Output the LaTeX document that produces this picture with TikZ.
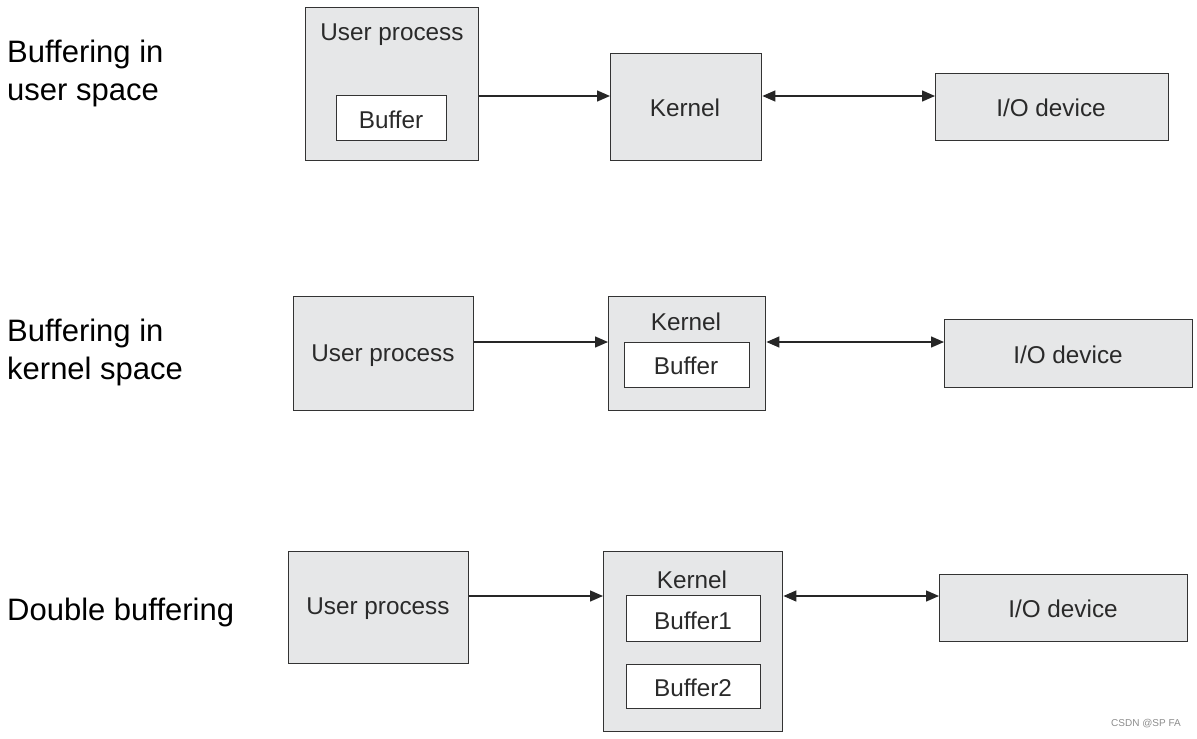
\documentclass[tikz,border=0pt]{standalone}
\usepackage{fontspec}
\setmainfont{Liberation Sans}
\usetikzlibrary{arrows.meta}
\definecolor{boxfill}{HTML}{E6E7E8}
\definecolor{boxline}{HTML}{333333}
\definecolor{txt}{HTML}{2A2A2A}
\begin{document}
\begin{tikzpicture}[x=1pt,y=-1pt,
  outer/.style={draw=boxline,fill=boxfill,line width=1.4pt,inner sep=0pt,anchor=north west},
  inner/.style={draw=boxline,fill=white,line width=1.4pt,inner sep=0pt,anchor=north west},
  lbl/.style={text=txt,font=\fontsize{24.3}{28}\selectfont,inner sep=0pt,yshift=-2pt},
  side/.style={text=black,font=\fontsize{31}{38}\selectfont,inner sep=0pt,anchor=west,align=left},
  conn/.style={draw=black!85,line width=1.4pt,-{Triangle[length=13pt,width=11pt]}},
  conn2/.style={draw=black!85,line width=1.4pt,{Triangle[length=13pt,width=11pt]}-{Triangle[length=13pt,width=11pt]}}]
\useasboundingbox (0,0) rectangle (1197,739);
% side labels
\node[side] (s1) at (7,73) {Buffering in\\user space};
\node[side] (s2) at (7,352) {Buffering in\\kernel space};
\node[side] (s3) at (7,612) {Double buffering};
% row 1
\node[outer,minimum width=173pt,minimum height=153pt] (u1) at (305,7) {};
\node[lbl] (u1t) at (392,33) {User process};
\node[inner,minimum width=110pt,minimum height=45pt] (b1) at (336,95) {};
\node[lbl] (b1t) at (391,118) {Buffer};
\node[outer,minimum width=151pt,minimum height=107pt] (k1) at (610,53) {};
\node[lbl] (k1t) at (685,106) {Kernel};
\node[outer,minimum width=233pt,minimum height=67pt] (d1) at (935,73) {};
\node[lbl] (d1t) at (1051,106) {I/O device};
\coordinate (a1) at (0,96);
\draw[conn] (u1.east |- a1) -- (k1.west |- a1);
\draw[conn2] (k1.east |- a1) -- (d1.west |- a1);
% row 2
\node[outer,minimum width=180pt,minimum height=114pt] (u2) at (293,296) {};
\node[lbl] (u2t) at (383,354) {User process};
\node[outer,minimum width=157pt,minimum height=114pt] (k2) at (608,296) {};
\node[lbl] (k2t) at (686,320) {Kernel};
\node[inner,minimum width=125pt,minimum height=45pt] (b2) at (624,342) {};
\node[lbl] (b2t) at (686,364) {Buffer};
\node[outer,minimum width=248pt,minimum height=68pt] (d2) at (944,319) {};
\node[lbl] (d2t) at (1068,353) {I/O device};
\coordinate (a2) at (0,342);
\draw[conn] (u2.east |- a2) -- (k2.west |- a2);
\draw[conn2] (k2.east |- a2) -- (d2.west |- a2);
% row 3
\node[outer,minimum width=180pt,minimum height=112pt] (u3) at (288,551) {};
\node[lbl] (u3t) at (378,607) {User process};
\node[outer,minimum width=179pt,minimum height=180pt] (k3) at (603,551) {};
\node[lbl] (k3t) at (692,578) {Kernel};
\node[inner,minimum width=134pt,minimum height=46pt] (b3a) at (626,595) {};
\node[lbl] (b3at) at (693,619) {Buffer1};
\node[inner,minimum width=134pt,minimum height=44pt] (b3b) at (626,664) {};
\node[lbl] (b3bt) at (693,686) {Buffer2};
\node[outer,minimum width=248pt,minimum height=67pt] (d3) at (939,574) {};
\node[lbl] (d3t) at (1063,607) {I/O device};
\coordinate (a3) at (0,596);
\draw[conn] (u3.east |- a3) -- (k3.west |- a3);
\draw[conn2] (k3.east |- a3) -- (d3.west |- a3);
% watermark
\node[text=black!45,font=\fontsize{10}{11}\selectfont,inner sep=0pt,anchor=east] (wm) at (1181,724) {CSDN @SP FA};
\end{tikzpicture}
\end{document}
